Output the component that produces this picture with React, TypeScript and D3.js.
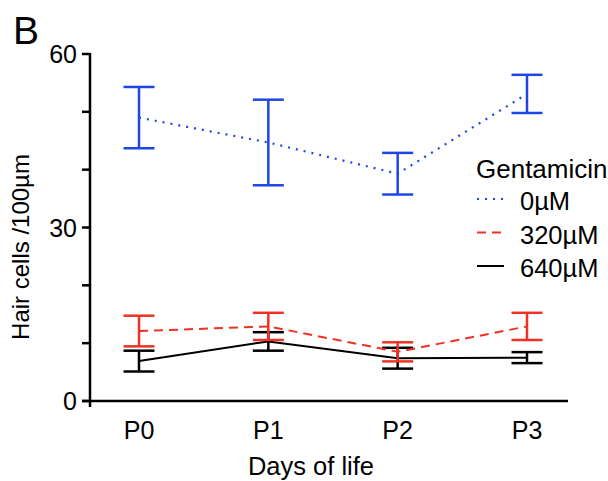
import React from "react";
import * as d3 from "d3";

const days = ["P0", "P1", "P2", "P3"];

// mean and error half-width per day
const mean0 = [49.0, 44.7, 39.3, 53.1];
const err0 = [5.3, 7.4, 3.6, 3.3];
const mean320 = [12.1, 12.9, 8.5, 12.9];
const err320 = [2.65, 2.35, 1.65, 2.35];
const mean640 = [6.9, 10.3, 7.4, 7.5];
const err640 = [1.8, 1.6, 1.8, 0.95];

const yTicks = [0, 10, 20, 30, 40, 50, 60];
const yLabels = [0, 30, 60];

const legendTitle = "Gentamicin";
const seriesNames = ["0µM", "320µM", "640µM"];

const font = "'Liberation Sans', Arial, sans-serif";

const axisLeft = 90;
const axisRight = 568;
const yTop = 54;
const yBottom = 401;

const series = [
  { name: seriesNames[2], mean: mean640, err: err640, color: "#000000", dash: null, width: 2 },
  { name: seriesNames[1], mean: mean320, err: err320, color: "#ee3224", dash: "9,6", width: 2 },
  { name: seriesNames[0], mean: mean0, err: err0, color: "#1e46e6", dash: "2,6", width: 2.2 },
];

export default function App() {
  const x = d3.scalePoint<string>().domain(days).range([139, 527]);
  const y = d3.scaleLinear().domain([0, 60]).range([yBottom, yTop]);
  const line = d3
    .line<number>()
    .x((_, i) => x(days[i]) as number)
    .y((d) => y(d));
  const cap = 15.5;

  return (
    <svg
      width={608}
      height={481}
      style={{ position: "absolute", left: 0, top: 0, background: "#fff" }}
      fontFamily={font}
    >
      <rect width={608} height={481} fill="#fff" />
      <text x={13} y={44} fontSize={39} fill="#000">B</text>

      {/* y axis */}
      <line x1={axisLeft} x2={axisLeft} y1={yTop - 1} y2={yBottom + 6} stroke="#000" strokeWidth={2.5} />
      {yTicks.map((t) => (
        <line key={t} x1={axisLeft - 8} x2={axisLeft} y1={y(t)} y2={y(t)} stroke="#000" strokeWidth={2.5} />
      ))}
      {yLabels.map((t) => (
        <text key={t} x={77} y={y(t)} dy="0.36em" textAnchor="end" fontSize={25} fill="#000">
          {t}
        </text>
      ))}
      <text
        transform={`translate(29,247) rotate(-90)`}
        textAnchor="middle"
        fontSize={24}
        fill="#000"
      >
        Hair cells /100µm
      </text>

      {/* x axis */}
      <line x1={axisLeft - 8} x2={axisRight} y1={yBottom} y2={yBottom} stroke="#000" strokeWidth={2.5} />
      {days.map((d) => (
        <text key={d} x={x(d)} y={439} textAnchor="middle" fontSize={25} fill="#000">
          {d}
        </text>
      ))}
      <text x={311} y={475} textAnchor="middle" fontSize={25.5} fill="#000">
        Days of life
      </text>

      {/* series */}
      {series.map((s) => (
        <g key={s.name}>
          <path
            d={line(s.mean) || ""}
            fill="none"
            stroke={s.color}
            strokeWidth={s.width}
            strokeDasharray={s.dash || undefined}
          />
          {s.mean.map((m, i) => {
            const cx = x(days[i]) as number;
            const hi = y(m + s.err[i]);
            const lo = y(m - s.err[i]);
            return (
              <g key={i} stroke={s.color} strokeWidth={2.5}>
                <line x1={cx} x2={cx} y1={hi} y2={lo} />
                <line x1={cx - cap} x2={cx + cap} y1={hi} y2={hi} />
                <line x1={cx - cap} x2={cx + cap} y1={lo} y2={lo} />
              </g>
            );
          })}
        </g>
      ))}

      {/* legend */}
      <text x={476} y={178} fontSize={26} fill="#000">{legendTitle}</text>
      {[series[2], series[1], series[0]].map((s, i) => {
        const base = 210 + i * 33.5;
        return (
          <g key={s.name}>
            <line
              x1={477}
              x2={504}
              y1={base - 11}
              y2={base - 11}
              stroke={s.color}
              strokeWidth={s.width}
              strokeDasharray={s.dash || undefined}
            />
            <text x={520} y={base} fontSize={25.5} fill="#000">{s.name}</text>
          </g>
        );
      })}
    </svg>
  );
}
